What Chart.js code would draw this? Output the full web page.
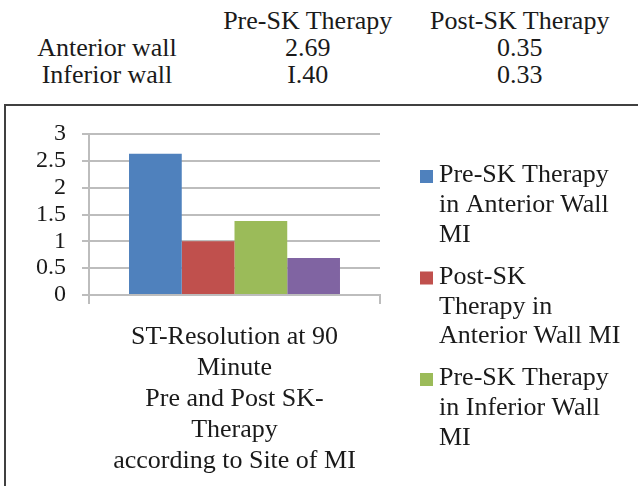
<!DOCTYPE html>
<html>
<head>
<meta charset="utf-8">
<script src="https://cdn.jsdelivr.net/npm/chart.js@4"></script>
<style>
  body { margin: 0; width: 638px; height: 486px; overflow: hidden; background: #fff; position: relative; }
  #table { position: absolute; left: 0; top: 7px; border-collapse: collapse; font-family: "Liberation Serif", "Times New Roman", Times, "DejaVu Serif"; font-size: 26px; line-height: 27px; color: #1a1a1a; }
  #table td { padding: 0; text-align: center; white-space: nowrap; }
  #frame { position: absolute; left: 4px; top: 104px; width: 700px; height: 500px; border: 2px solid #404040; }
  #chart { position: absolute; left: 0; top: 0; }
</style>
</head>
<body>
<table id="table"></table>
<div id="frame"></div>
<canvas id="chart" width="638" height="486"></canvas>
<script>
// Table data
const tableCols = ["", "Pre-SK Therapy", "Post-SK Therapy"];
const tableRows = ["Anterior wall", "Inferior wall"];
const tableValues = [["2.69", "0.35"], ["I.40", "0.33"]];
const colWidths = [216, 188, 238];

// Chart data
const categories = [["ST-Resolution at 90", "Minute", "Pre and Post SK-", "Therapy", "according to Site of MI"]];
const seriesNames = [
  "Pre-SK Therapy in Anterior Wall MI",
  "Post-SK Therapy in Anterior Wall MI",
  "Pre-SK Therapy in Inferior Wall MI",
  "Post-SK Therapy in Inferior Wall MI"
];
const legendLines = [
  ["Pre-SK Therapy", "in Anterior Wall", "MI"],
  ["Post-SK", "Therapy in", "Anterior Wall MI"],
  ["Pre-SK Therapy", "in Inferior Wall", "MI"],
  ["Post-SK Therapy", "in Inferior Wall", "MI"]
];
const seriesValues = [[2.63], [1.0], [1.38], [0.69]];
const seriesColors = ["#4F81BD", "#C0504D", "#9BBB59", "#8064A2"];
const yTickLabels = ["0", "0.5", "1", "1.5", "2", "2.5", "3"];
const yMin = 0, yMax = 3, yStep = 0.5;

const fontFamily = "'Liberation Serif', 'Times New Roman', Times, 'DejaVu Serif'";
const textColor = "#1a1a1a";
const gridColor = "#bdbdbd";

// Build the table on top
const table = document.getElementById('table');
const head = table.insertRow();
tableCols.forEach((c, i) => {
  const td = head.insertCell();
  td.textContent = c;
  td.style.width = colWidths[i] + 'px';
});
tableRows.forEach((r, ri) => {
  const tr = table.insertRow();
  tr.insertCell().textContent = r;
  tableValues[ri].forEach(v => { tr.insertCell().textContent = v; });
});

// Legend drawn like Excel: wrapped entries, stops when the next entry does not fit
const wrappedLegend = {
  id: 'wrappedLegend',
  afterDraw(chart) {
    const ctx = chart.ctx;
    const x = 420, lh = 29.7, gap = 12.4;
    let y = 175.5;
    ctx.save();
    ctx.font = "26px " + fontFamily;
    ctx.textBaseline = 'middle';
    ctx.textAlign = 'left';
    chart.data.datasets.forEach((ds, i) => {
      const lines = legendLines[i];
      if (y + (lines.length - 1) * lh + lh / 2 > chart.height) { y = Infinity; return; }
      ctx.fillStyle = ds.backgroundColor;
      ctx.fillRect(x, y - 5.5, 13, 13);
      ctx.fillStyle = textColor;
      lines.forEach((t, j) => ctx.fillText(t, x + 19, y + j * lh));
      y += lines.length * lh + gap;
    });
    ctx.restore();
  }
};

Chart.defaults.font.family = fontFamily;
Chart.defaults.color = textColor;

new Chart(document.getElementById('chart'), {
  type: 'bar',
  data: {
    labels: categories,
    datasets: seriesNames.map((name, i) => ({
      label: name,
      data: seriesValues[i],
      backgroundColor: seriesColors[i],
      borderWidth: 0,
      barPercentage: 1,
      categoryPercentage: 0.725
    }))
  },
  options: {
    responsive: false,
    animation: false,
    devicePixelRatio: 1,
    layout: { padding: { left: 0, top: 134, right: 258, bottom: 0 } },
    plugins: { legend: { display: false }, tooltip: { enabled: false } },
    scales: {
      x: {
        offset: true,
        grid: { offset: true, drawOnChartArea: false, tickLength: 9, color: gridColor, lineWidth: 2 },
        border: { color: gridColor, width: 2 },
        ticks: {
          padding: 18,
          maxRotation: 0,
          autoSkip: false,
          color: textColor,
          font: { size: 26, lineHeight: 31 / 26 }
        },
        afterFit: (scale) => { scale.height = 486 - 295; }
      },
      y: {
        min: yMin,
        max: yMax,
        grid: { color: gridColor, lineWidth: 2, tickLength: 7 },
        border: { color: gridColor, width: 2 },
        ticks: {
          stepSize: yStep,
          autoSkip: false,
          padding: 16,
          color: textColor,
          font: { size: 24 },
          callback: (v, i) => yTickLabels[i]
        },
        afterFit: (scale) => { scale.width = 89; }
      }
    }
  },
  plugins: [wrappedLegend]
});
</script>
</body>
</html>
